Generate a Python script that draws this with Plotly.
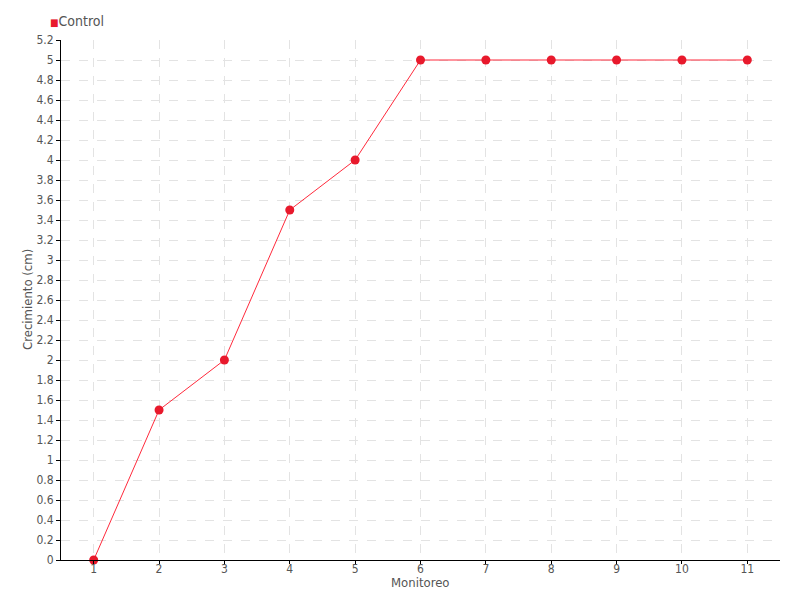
import plotly.graph_objects as go

monitoreo = [1, 2, 3, 4, 5, 6, 7, 8, 9, 10, 11]
crecimiento = [0, 1.5, 2, 3.5, 4, 5, 5, 5, 5, 5, 5]
serie = "Control"
titulo_x = "Monitoreo"
titulo_y = "Crecimiento (cm)"

rojo = "#e8192c"
gris = "#555555"
font_name = "Liberation Sans Narrow, DejaVu Sans Condensed, sans-serif"

fig = go.Figure()

# Main line with markers
fig.add_trace(
    go.Scatter(
        x=monitoreo,
        y=crecimiento,
        mode="lines+markers",
        line=dict(color="#ff2a3c", width=1),
        marker=dict(color=rojo, size=9),
        name=serie,
        showlegend=False,
        cliponaxis=False,
    )
)

# Compact legend drawn as an annotation (square symbol + series name)
fig.add_annotation(
    xref="paper", yref="paper",
    x=0, xshift=-13, y=1.0, yshift=19,
    xanchor="left", yanchor="middle",
    text=f"<span style='color:{rojo};font-size:10px'>■</span>{serie}",
    showarrow=False,
    font=dict(size=14, color=gris),
)

# Axis titles placed close to the axes, as in the original
fig.add_annotation(
    xref="paper", yref="paper",
    x=0.5, y=0, yshift=-22,
    xanchor="center", yanchor="middle",
    text=titulo_x, showarrow=False,
    font=dict(size=13, color=gris),
)
fig.add_annotation(
    xref="paper", yref="paper",
    x=0, xshift=-34, y=0.5,
    xanchor="center", yanchor="middle",
    text=titulo_y, textangle=-90, showarrow=False,
    font=dict(size=13, color=gris),
)

fig.update_layout(
    width=792,
    height=592,
    plot_bgcolor="white",
    paper_bgcolor="white",
    font=dict(family=font_name, size=12, color=gris),
    margin=dict(l=53, r=20, t=32, b=40),
    showlegend=False,
)

fig.update_xaxes(
    range=[0.5, 11.5],
    tickmode="array",
    tickvals=monitoreo,
    ticktext=[str(v) for v in monitoreo],
    showline=True, linecolor="black", linewidth=1,
    ticks="outside", tickcolor="black", ticklen=3,
    ticklabelstandoff=-5,
    showgrid=True, gridcolor="#e3e3e3", griddash="dash",
    zeroline=False, automargin=False,
)

fig.update_yaxes(
    range=[0, 5.2],
    dtick=0.2,
    showline=True, linecolor="black", linewidth=1,
    ticks="outside", tickcolor="black", ticklen=4,
    showgrid=True, gridcolor="#e3e3e3", griddash="dash",
    zeroline=False, automargin=False,
)

fig.write_html("out.html")
